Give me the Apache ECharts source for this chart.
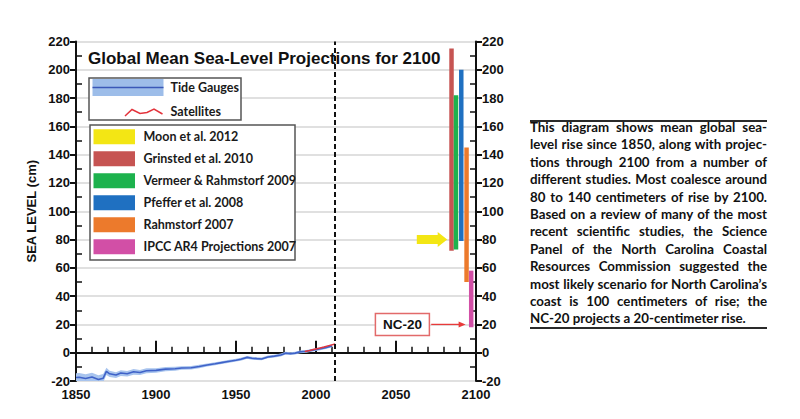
<!DOCTYPE html>
<html>
<head>
<meta charset="utf-8">
<script src="https://cdn.jsdelivr.net/npm/echarts@6/dist/echarts.min.js"></script>
<style>
html,body{margin:0;padding:0;background:#fff;}
#chart{position:absolute;left:0;top:0;width:800px;height:419px;}
.rule{position:absolute;left:530px;width:237px;height:2px;background:#2a2a2a;}
#note{position:absolute;left:530px;top:119px;width:237px;font-family:Lato,sans-serif;font-weight:700;font-size:13.3px;color:#111;}
#note div{height:17.4px;line-height:17.4px;text-align:justify;text-align-last:justify;white-space:nowrap;}
#note div.last{text-align-last:left;}
</style>
</head>
<body>
<div id="chart"></div>
<div class="rule" style="top:120px"></div>
<div class="rule" style="top:327px"></div>
<div id="note"></div>
<script>
// tide gauge record (cm)
var years = [1850,1852,1856,1860,1864,1867,1869,1871,1875,1878,1882,1886,1890,1894,1900,1906,1912,1916,1922,1927,1932,1937,1941,1945,1950,1953,1957,1960,1963,1966,1970,1974,1978,1981,1984,1987,1990,1994,1998,2002,2006,2010];
var tideLevel = [-17.5,-17.3,-18.2,-17.2,-19,-18,-13.2,-14.9,-15.8,-14.4,-14.9,-13.5,-14,-12.8,-12.5,-11.6,-11.3,-10.8,-10.6,-9.8,-8.7,-7.8,-7,-6.2,-5.3,-4.6,-3.3,-3.9,-4.2,-4.4,-3,-2.4,-1.6,-0.3,-0.7,-0.3,0.6,1.0,1.8,2.6,3.6,4.8];
var tideSpread = [3,3,3,3,3,3,2.5,2.2,2,2,2,2,1.8,1.8,1.6,1.5,1.4,1.3,1.2,1.2,1.1,1.1,1,1,1,1,1,1,1,1,1,1,1,1,1,1,1,1,1,1,1,1];
// satellite record
var satYears = [1993,1996,1999,2002,2005,2008,2012];
var satLevel = [0.9,1.6,2.4,3.2,4.0,5.0,6.2];
var nowYear = 2012;

// projections for 2100
var studyNames = ['Moon et al. 2012','Grinsted et al. 2010','Vermeer & Rahmstorf 2009','Pfeffer et al. 2008','Rahmstorf 2007','IPCC AR4 Projections 2007'];
var studyColors = ['#f3e614','#c65452','#1db24d','#1f70c1','#ec7a2c','#d24fa6'];
var barYears = [2084.7,2087.5,2090.8,2094.1,2097];
var barLow = [72,73,79,50,18];
var barHigh = [215,182,200,145,58];
var moonLevel = 80;
var moonArrowYears = [2063,2082];
var ncLevel = 20;
var ncBoxYear = 2054;
var ncArrowYears = [2072,2093.5];

var yMin = -20, yMax = 220, yStep = 20;
var xMin = 1850, xMax = 2100, xStep = 50;

var noteLines = [
  'This diagram shows mean global sea-',
  'level rise since 1850, along with projec-',
  'tions through 2100 from a number of',
  'different studies. Most coalesce around',
  '80 to 140 centimeters of rise by 2100.',
  'Based on a review of many of the most',
  'recent scientific studies, the Science',
  'Panel of the North Carolina Coastal',
  'Resources Commission suggested the',
  'most likely scenario for North Carolina\u2019s',
  'coast is 100 centimeters of rise; the',
  'NC-20 projects a 20-centimeter rise.'
];
var note = document.getElementById('note');
noteLines.forEach(function(t, i){
  var d = document.createElement('div');
  d.textContent = t;
  if (i === noteLines.length - 1) d.className = 'last';
  note.appendChild(d);
});

var axisFont = 'Liberation Sans';
var legFont = 'bold 12.5px Lato';

function yAxisDef(pos, main){
  return {
    type:'value', position:pos, min:yMin, max:yMax, interval:yStep,
    name: (main && pos === 'left') ? 'SEA LEVEL (cm)' : '',
    nameLocation:'middle', nameGap:38,
    nameTextStyle:{fontFamily:axisFont, fontWeight:'bold', fontSize:13, color:'#111'},
    axisLine:{show:main, lineStyle:{color:'#111', width:2}},
    axisTick:{show:main, inside:!main, length:6, lineStyle:{color:'#111', width:2}},
    minorTick:{show:!main, splitNumber:2, length:6, lineStyle:{color:'#111', width:1.5}},
    axisLabel:{show:main, margin:6, fontFamily:axisFont, fontWeight:'bold', fontSize:13, color:'#111'},
    splitLine:{show:main && pos === 'left', lineStyle:{color:'#d6d6d6', width:1.5}}
  };
}

// legend boxes
var graphics = [];
graphics.push({type:'text', left:88, top:50, z:50, style:{text:'Global Mean Sea-Level Projections for 2100', font:'bold 17px Liberation Sans', fill:'#111'}});
graphics.push({type:'rect', shape:{x:89, y:78, width:152, height:42}, z:50, style:{fill:'#fff', stroke:'#555', lineWidth:1.5}});
graphics.push({type:'rect', shape:{x:92.5, y:79, width:71, height:17}, z:51, style:{fill:'#9dbde9'}});
graphics.push({type:'line', shape:{x1:92.5, y1:87.5, x2:163.5, y2:87.5}, z:52, style:{stroke:'#3a58b8', lineWidth:1.5}});
graphics.push({type:'text', x:170.5, y:87.5, z:52, style:{text:'Tide Gauges', font:legFont, fill:'#1a1a1a', verticalAlign:'middle'}});
graphics.push({type:'polyline', shape:{points:[[125,116],[132,109.5],[140,113.5],[147,112.5],[154,109],[162.5,114]]}, z:52, style:{stroke:'#e3343c', lineWidth:1.5, fill:null}});
graphics.push({type:'text', x:170.5, y:111.7, z:52, style:{text:'Satellites', font:legFont, fill:'#1a1a1a', verticalAlign:'middle'}});
graphics.push({type:'rect', shape:{x:90, y:125, width:205, height:135}, z:50, style:{fill:'#fff', stroke:'#555', lineWidth:1.5}});
studyNames.forEach(function(n, i){
  var cy = 136.7 + i * 22;
  graphics.push({type:'rect', shape:{x:93.5, y:cy - 7.5, width:41.5, height:15}, z:51, style:{fill:studyColors[i]}});
  graphics.push({type:'text', x:143.5, y:cy, z:52, style:{text:n, font:legFont, fill:'#1a1a1a', verticalAlign:'middle'}});
});

var chart = echarts.init(document.getElementById('chart'), null, {renderer:'svg'});
chart.setOption({
  animation:false,
  backgroundColor:'#fff',
  grid:{left:76, right:324, top:41.5, bottom:38},
  xAxis:[{
    type:'value', min:xMin, max:xMax, interval:xStep,
    axisLine:{lineStyle:{color:'#111', width:2}},
    axisTick:{inside:true, length:12, lineStyle:{color:'#111', width:2}},
    minorTick:{show:true, splitNumber:5, length:6, lineStyle:{color:'#111', width:1.5}},
    axisLabel:{margin:7, fontFamily:axisFont, fontWeight:'bold', fontSize:13, color:'#111',
               formatter:function(v){ return String(v); }},
    splitLine:{show:false}
  },{
    type:'value', position:'top', min:xMin, max:xMax,
    axisLine:{show:true, lineStyle:{color:'#111', width:2}},
    axisTick:{show:false}, axisLabel:{show:false}, splitLine:{show:false}
  }],
  yAxis:[yAxisDef('left', true), yAxisDef('left', false), yAxisDef('right', true), yAxisDef('right', false)],
  graphic:graphics,
  series:[
    {
      type:'custom', clip:true, silent:true, z:2,
      data:[[years[0], tideLevel[0]]],
      renderItem:function(params, api){
        var pts = [];
        for (var i = 0; i < years.length; i++) pts.push(api.coord([years[i], tideLevel[i] + tideSpread[i]]));
        for (var j = years.length - 1; j >= 0; j--) pts.push(api.coord([years[j], tideLevel[j] - tideSpread[j]]));
        return {type:'polygon', shape:{points:pts}, style:{fill:'#a8c4ee'}};
      }
    },
    {
      name:'Tide Gauges', type:'line', showSymbol:false, z:3,
      data:years.map(function(y, i){ return [y, tideLevel[i]]; }),
      lineStyle:{color:'#3f62c8', width:1.6},
      markLine:{
        symbol:'none', silent:true, label:{show:false},
        lineStyle:{color:'#111', type:[5,3], width:2},
        data:[{xAxis:nowYear}]
      }
    },
    {
      name:'Satellites', type:'line', showSymbol:false, z:4,
      data:satYears.map(function(y, i){ return [y, satLevel[i]]; }),
      lineStyle:{color:'#e0343c', width:1.5}
    },
    {
      type:'custom', z:5,
      data:barYears.map(function(y, i){ return [y, barLow[i], barHigh[i]]; }),
      encode:{x:0, y:[1,2]},
      renderItem:function(params, api){
        var lo = api.coord([api.value(0), api.value(1)]);
        var hi = api.coord([api.value(0), api.value(2)]);
        var w = api.size([2.8, 0])[0];
        return {type:'rect', shape:{x:lo[0] - w / 2, y:hi[1], width:w, height:lo[1] - hi[1]},
                style:{fill:studyColors[params.dataIndex + 1]}};
      }
    },
    {
      // Moon et al. 2012 arrow
      type:'custom', z:5,
      data:[[moonArrowYears[1], moonLevel]],
      renderItem:function(params, api){
        var tip = api.coord([api.value(0), api.value(1)]);
        var st = api.coord([moonArrowYears[0], api.value(1)]);
        var tx = tip[0], ty = tip[1];
        return {type:'polygon', shape:{points:[[st[0], ty - 4.5],[tx - 9.5, ty - 4.5],[tx - 9.5, ty - 7.5],[tx, ty],[tx - 9.5, ty + 7.5],[tx - 9.5, ty + 4.5],[st[0], ty + 4.5]]},
                style:{fill:studyColors[0]}};
      }
    },
    {
      // NC-20 label and arrow
      type:'custom', z:6,
      data:[[ncArrowYears[1], ncLevel]],
      renderItem:function(params, api){
        var tip = api.coord([api.value(0), api.value(1)]);
        var st = api.coord([ncArrowYears[0], api.value(1)]);
        var bc = api.coord([ncBoxYear, api.value(1)]);
        var y = tip[1];
        return {type:'group', children:[
          {type:'rect', shape:{x:bc[0] - 27, y:y - 11, width:54, height:22}, style:{fill:'#fff', stroke:'#e26a6a', lineWidth:1.5}},
          {type:'text', x:bc[0], y:y, style:{text:'NC-20', font:'bold 13.5px Liberation Sans', fill:'#111', align:'center', verticalAlign:'middle'}},
          {type:'line', shape:{x1:st[0], y1:y, x2:tip[0] - 6, y2:y}, style:{stroke:'#e83a3a', lineWidth:1.3}},
          {type:'polygon', shape:{points:[[tip[0], y],[tip[0] - 7, y - 3],[tip[0] - 7, y + 3]]}, style:{fill:'#e83a3a'}}
        ]};
      }
    }
  ]
});
</script>
</body>
</html>
